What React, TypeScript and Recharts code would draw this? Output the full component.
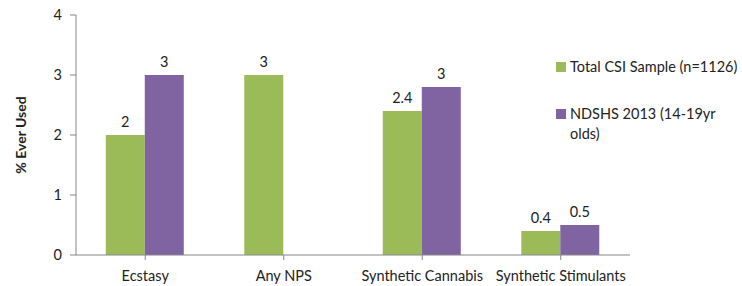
import React from 'react';
import { BarChart, Bar, XAxis, YAxis, Legend, LabelList, Label } from 'recharts';

const categories = ['Ecstasy', 'Any NPS', 'Synthetic Cannabis', 'Synthetic Stimulants'];
const csiValues = [2, 3, 2.4, 0.4];
const csiLabels = ['2', '3', '2.4', '0.4'];
const ndshsValues: (number | null)[] = [3, null, 2.8, 0.5];
const ndshsLabels = ['3', '', '3', '0.5'];
const yTicks = [0, 1, 2, 3, 4];

const seriesNames = ['Total CSI Sample (n=1126)', 'NDSHS 2013 (14-19yr olds)'];
const GREEN = '#9BBB59';
const PURPLE = '#8064A2';
const FONT = 'Lato, "Open Sans", sans-serif';
const TEXT = '#222';

const data = categories.map((name, i) => ({
  name,
  csi: csiValues[i],
  csiLabel: csiLabels[i],
  ndshs: ndshsValues[i],
  ndshsLabel: ndshsLabels[i],
}));

const LegendBox = () => (
  <div style={{ fontFamily: FONT, fontSize: 14.5, color: TEXT, width: 186 }}>
    {[GREEN, PURPLE].map((c, i) => (
      <div key={i} style={{ display: 'flex', alignItems: 'flex-start', marginBottom: 27, lineHeight: '20px' }}>
        <span style={{ display: 'inline-block', width: 10, height: 10, background: c, marginTop: 5, marginRight: 4, flexShrink: 0 }} />
        <span style={{ width: 160, whiteSpace: i === 0 ? 'nowrap' : 'normal' }}>{seriesNames[i]}</span>
      </div>
    ))}
  </div>
);

export default function App() {
  return (
    <div style={{ position: 'absolute', left: 0, top: 0, width: 742, height: 286, background: '#fff' }}>
      <BarChart
        width={742}
        height={286}
        data={data}
        margin={{ top: 15, right: 112, left: 0, bottom: 0 }}
        barCategoryGap="21.5%"
        barGap={0}
      >
        <XAxis
          dataKey="name"
          axisLine={{ stroke: '#868686' }}
          tickLine={{ stroke: '#868686' }}
          tickSize={5}
          tickMargin={11}
          interval={0}
          height={31}
          tick={{ fill: TEXT, fontSize: 14.5, fontFamily: FONT }}
        />
        <YAxis
          width={76}
          domain={[0, 4]}
          ticks={yTicks}
          axisLine={{ stroke: '#868686' }}
          tickLine={{ stroke: '#868686' }}
          tickSize={6}
          tickMargin={8}
          tick={{ fill: TEXT, fontSize: 14.5, fontFamily: FONT }}
        >
          <Label
            content={({ viewBox }: any) => {
              const cx = viewBox.x + 20;
              const cy = viewBox.y + viewBox.height / 2;
              return (
                <text
                  x={cx}
                  y={cy}
                  transform={`rotate(-90 ${cx} ${cy})`}
                  textAnchor="middle"
                  dominantBaseline="central"
                  style={{ fontFamily: FONT, fontSize: 14, fontWeight: 'bold', fill: TEXT }}
                >
                  % Ever Used
                </text>
              );
            }}
          />
        </YAxis>
        <Legend
          layout="vertical"
          align="center"
          verticalAlign="middle"
          content={<LegendBox />}
          wrapperStyle={{ left: 556, top: 57, width: 186 }}
        />
        <Bar dataKey="csi" name={seriesNames[0]} fill={GREEN} isAnimationActive={false}>
          <LabelList dataKey="csiLabel" position="top" offset={8} style={{ fill: TEXT, fontSize: 14.5, fontFamily: FONT }} />
        </Bar>
        <Bar dataKey="ndshs" name={seriesNames[1]} fill={PURPLE} isAnimationActive={false}>
          <LabelList dataKey="ndshsLabel" position="top" offset={8} style={{ fill: TEXT, fontSize: 14.5, fontFamily: FONT }} />
        </Bar>
      </BarChart>
    </div>
  );
}
